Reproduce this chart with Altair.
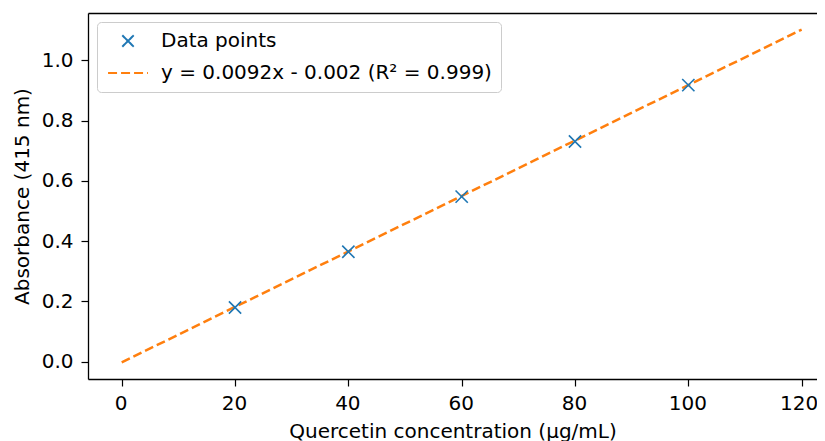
import altair as alt
import pandas as pd

conc = [20, 40, 60, 80, 100]
absorb = [0.180, 0.365, 0.548, 0.731, 0.918]
fit_x = [0, 120]
fit_y = [-0.002, 1.102]
series = ["Data points", "y = 0.0092x - 0.002 (R² = 0.999)"]
x_ticks = [0, 20, 40, 60, 80, 100, 120]
y_ticks = [0.0, 0.2, 0.4, 0.6, 0.8, 1.0]

pts = pd.DataFrame({"x": conc, "y": absorb, "s": series[0]})
fit = pd.DataFrame({"x": fit_x, "y": fit_y, "s": series[1]})

X_PATH = "M-1,-1L1,1M-1,1L1,-1"
LINE_PATH = "M-3.5,0L3.5,0"

FONT = "DejaVu Sans"
FS = 20

xscale = alt.Scale(domain=[-5.95, 122.71], nice=False, zero=False)
yscale = alt.Scale(domain=[-0.0572, 1.1572], nice=False, zero=False)

leg = alt.Legend(
    title=None,
    orient="top-left",
    offset=9,
    padding=9,
    fillColor="white",
    strokeColor="#cccccc",
    cornerRadius=4,
    labelFont=FONT,
    labelFontSize=FS,
    labelColor="black",
    labelLimit=600,
    labelOffset=23,
    symbolOffset=12,
    rowPadding=12,
    symbolSize=130,
    symbolStrokeWidth=2,
)

color = alt.Color("s:N", scale=alt.Scale(domain=series, range=["#1f77b4", "#ff7f0e"]), legend=leg)
shape = alt.Shape("s:N", scale=alt.Scale(domain=series, range=[X_PATH, LINE_PATH]), legend=leg)
dash = alt.StrokeDash("s:N", scale=alt.Scale(domain=series, range=[[1, 0], [9, 4]]), legend=leg)

xbottom = alt.X("x:Q", scale=xscale, axis=alt.Axis(
    values=x_ticks, format="d", orient="bottom",
    title="Quercetin concentration (µg/mL)", labelPadding=7, titlePadding=8,
    labelOffset={"condition": {"test": "datum.value === 120", "value": -3}, "value": -1}))
xtop = alt.X("x:Q", scale=xscale, axis=alt.Axis(orient="top", labels=False, ticks=False,
             title=None, domain=True))
yenc = alt.Y("y:Q", scale=yscale, axis=alt.Axis(values=y_ticks, format=".1f",
             title="Absorbance (415 nm)", labelPadding=8, titlePadding=9))

line = alt.Chart(fit).mark_line(strokeWidth=2.5).encode(x=xbottom, y=yenc, color=color, strokeDash=dash)
points = alt.Chart(pts).mark_point(filled=False, size=150, strokeWidth=1.6, opacity=1).encode(
    x=xtop, y=yenc, color=color, shape=shape)

chart = alt.layer(line, points).resolve_axis(x="independent").properties(
    width=729, height=366,
    padding={"left": 80, "top": 5, "right": 0, "bottom": 66},
    autosize=alt.AutoSizeParams(type="none"),
).configure_view(stroke=None).configure_axis(
    grid=False,
    labelFont=FONT, titleFont=FONT,
    labelFontSize=FS, titleFontSize=FS, titleFontWeight="normal",
    labelColor="black", titleColor="black",
    tickColor="black", domainColor="black", tickSize=7, tickWidth=1.2, domainWidth=1.3,
)

chart.save("out.html", embed_options={"renderer": "svg", "actions": False})
